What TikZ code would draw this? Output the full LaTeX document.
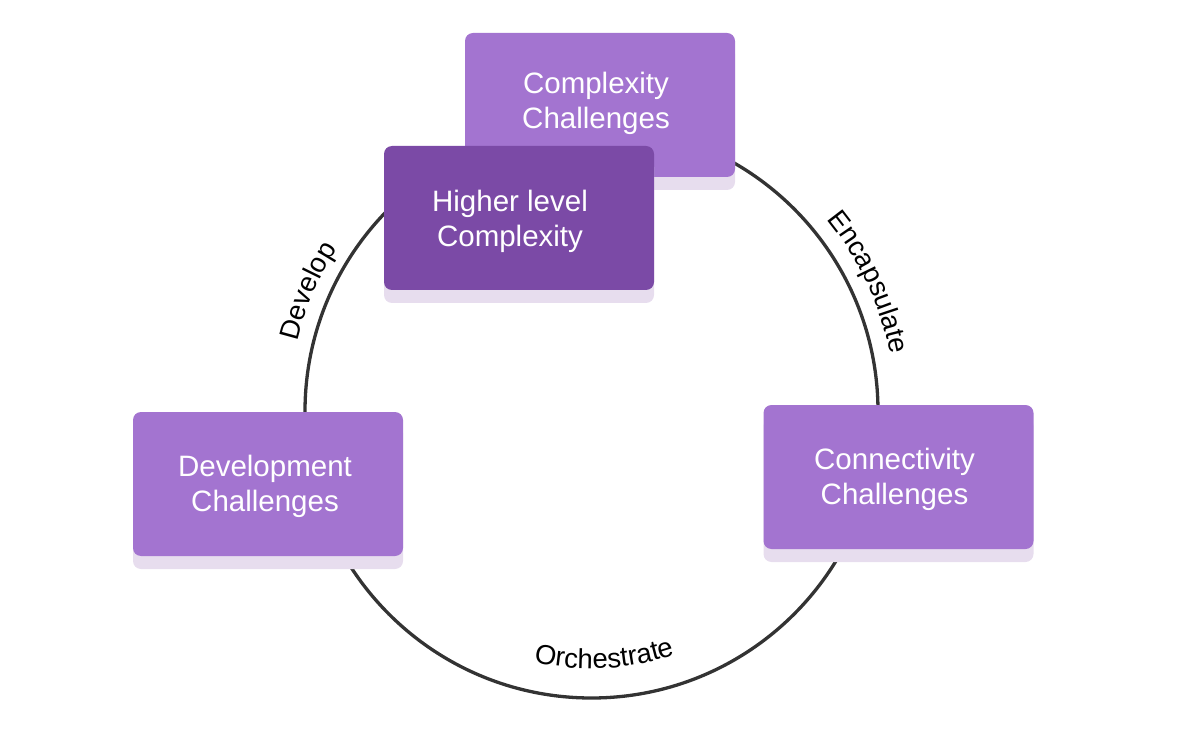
\documentclass[tikz,border=0pt]{standalone}
\usepackage{fontspec}
\setmainfont{Liberation Sans}
\usetikzlibrary{decorations.text,calc}
\definecolor{boxlight}{HTML}{A374D0}
\definecolor{boxdark}{HTML}{7B4AA6}
\definecolor{shadowc}{HTML}{E7DDEE}
\definecolor{ringc}{HTML}{333333}
\tikzset{
  card/.style={rectangle, rounded corners=8pt, minimum width=270pt, minimum height=144pt, inner sep=0pt},
  cardtext/.style={text=white, align=center, inner sep=0pt, font=\fontsize{29.5}{35}\selectfont},
  cardshadow/.style={card, fill=shadowc},
  ring/.style={line width=3.3pt, draw=ringc},
}
\newcommand{\lblfont}{\fontsize{27.5}{30}\selectfont}
\begin{document}
\begin{tikzpicture}[x=1pt,y=1pt]
\useasboundingbox (0,0) rectangle (1183,732);
\coordinate (c) at (591.5,320.5);
\draw[ring] (c) circle (286.5);
% labels along the ring
\path[decorate, decoration={text along path, text align=center,
  text={|\lblfont|Develop}}]
  ($(c)+(185:302)$) arc (185:129:302);
\path[decorate, decoration={text along path, text align=center,
  text={|\lblfont|Encapsulate}}]
  ($(c)+(55:304)$) arc (55:-5:304);
\path[decorate, decoration={text along path, text align=center,
  text={|\lblfont|Orchestrate}}]
  ($(c)+(-121:257)$) arc (-121:-53:257);
% boxes
\node[cardshadow] (s1) at (600,614) {};
\node[card, fill=boxlight] (cx) at (600,627) {};
\node[cardtext] (cxt) at ($(cx)+(-4,2)$) {Complexity\\Challenges};
\node[cardshadow] (s2) at (519,501) {};
\node[card, fill=boxdark] (hl) at (519,514) {};
\node[cardtext] (hlt) at ($(hl)+(-9,-3)$) {Higher level\\Complexity};
\node[cardshadow] (s3) at (268,235) {};
\node[card, fill=boxlight] (dv) at (268,248) {};
\node[cardtext] (dvt) at ($(dv)+(-3,-2)$) {Development\\Challenges};
\node[cardshadow] (s4) at (898.5,242) {};
\node[card, fill=boxlight] (cn) at (898.5,255) {};
\node[cardtext] (cnt) at ($(cn)+(-4,-2)$) {Connectivity\\Challenges};
\end{tikzpicture}
\end{document}
